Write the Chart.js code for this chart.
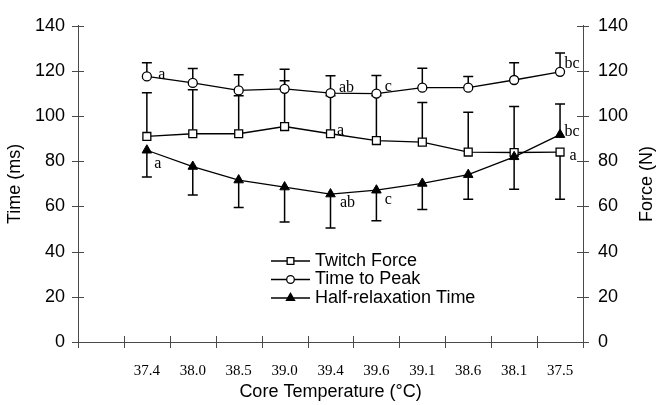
<!DOCTYPE html>
<html>
<head>
<meta charset="utf-8">
<script src="https://cdn.jsdelivr.net/npm/chart.js@4.4.0/dist/chart.umd.min.js"></script>
<style>
  html, body { margin: 0; padding: 0; background: #fff; }
  #wrap { width: 656px; height: 405px; }
</style>
</head>
<body>
<div id="wrap"><canvas id="chart"></canvas></div>
<script>
// Core temperature at each measurement (x categories)
const temps = ['37.4', '38.0', '38.5', '39.0', '39.4', '39.6', '39.1', '38.6', '38.1', '37.5'];

// Twitch force (N), right axis; bar end = mean + / - SD
const twitchForce    = [91.0, 92.2, 92.2, 95.4, 92.2, 89.2, 88.5, 84.1, 83.9, 84.1];
const twitchForceEnd = [110.4, 111.7, 109.0, 115.7, 109.0, 109.0, 106.0, 101.7, 104.3, 63.2];
const twitchForceSig = ['', '', '', '', 'a', '', '', '', '', 'a'];

// Time to peak (ms), left axis
const timeToPeak    = [117.6, 114.7, 111.4, 112.1, 110.2, 110.0, 112.6, 112.6, 116.0, 119.6];
const timeToPeakEnd = [123.6, 121.1, 118.3, 120.8, 117.9, 118.0, 121.2, 117.5, 123.6, 128.0];
const timeToPeakSig = ['a', '', '', '', 'ab', 'c', '', '', '', 'bc'];

// Half-relaxation time (ms), left axis
const halfRelax    = [84.9, 77.7, 71.7, 68.6, 65.5, 67.2, 70.2, 74.1, 82.0, 91.8];
const halfRelaxEnd = [73.1, 65.1, 59.5, 53.1, 50.5, 53.7, 58.7, 63.2, 67.6, 105.4];
const halfRelaxSig = ['a', '', '', '', 'ab', 'c', '', '', '', 'bc'];

const yTicks = [0, 20, 40, 60, 80, 100, 120, 140];

const SANS = "'Liberation Sans', Arial, sans-serif";
const SERIF = "'Liberation Serif', 'Times New Roman', serif";
const AXIS = '#4a4a4a';

// first category is left empty in the original figure
const xLabels = [''].concat(temps);
const pad = arr => [null].concat(arr);

// where the significance letters sit relative to each point [dx, dy]
const sigOffsets = {
  'Twitch Force': { 4: [10, -3], 9: [13, 4] },
  'Time to Peak': { 0: [15, -2], 4: [16, -5], 5: [12, -7], 9: [12, -8] },
  'Half-relaxation Time': { 0: [11, 14], 4: [17, 9], 5: [12, 10], 9: [12, -3] }
};

const errorBars = {
  id: 'errorBars',
  beforeDatasetsDraw(chart) {
    const ctx = chart.ctx;
    ctx.save();
    ctx.strokeStyle = '#000';
    ctx.lineWidth = 1.5;
    chart.data.datasets.forEach((ds, i) => {
      const meta = chart.getDatasetMeta(i);
      const scale = chart.scales[meta.yAxisID];
      meta.data.forEach((pt, j) => {
        const end = ds.errEnd[j];
        if (end == null || ds.data[j] == null) return;
        const ye = scale.getPixelForValue(end);
        ctx.beginPath();
        ctx.moveTo(pt.x, pt.y);
        ctx.lineTo(pt.x, ye);
        ctx.moveTo(pt.x - 5, ye);
        ctx.lineTo(pt.x + 5, ye);
        ctx.stroke();
      });
    });
    ctx.restore();
  }
};

const sigLetters = {
  id: 'sigLetters',
  afterDatasetsDraw(chart) {
    const ctx = chart.ctx;
    ctx.save();
    ctx.fillStyle = '#000';
    ctx.font = '16px ' + SERIF;
    ctx.textAlign = 'center';
    ctx.textBaseline = 'middle';
    chart.data.datasets.forEach((ds, i) => {
      const meta = chart.getDatasetMeta(i);
      const offs = sigOffsets[ds.label] || {};
      ds.sig.forEach((s, j) => {
        if (!s) return;
        const pt = meta.data[j + 1];
        const o = offs[j] || [12, 0];
        ctx.fillText(s, pt.x + o[0], pt.y + o[1]);
      });
    });
    ctx.restore();
  }
};

// tick marks that cross the axis lines, plus the right title read bottom-to-top
const crossTicks = {
  id: 'crossTicks',
  afterDraw(chart) {
    const ctx = chart.ctx;
    const area = chart.chartArea;
    ctx.save();
    ctx.strokeStyle = AXIS;
    ctx.lineWidth = 1;
    ctx.beginPath();
    ['y', 'y1'].forEach(id => {
      const s = chart.scales[id];
      const x = id === 'y' ? area.left : area.right;
      s.ticks.forEach(t => {
        const y = Math.round(s.getPixelForValue(t.value)) + 0.5;
        ctx.moveTo(x - 6, y);
        ctx.lineTo(x + 6, y);
      });
    });
    const n = xLabels.length;
    const w = (area.right - area.left) / n;
    for (let k = 0; k <= n; k++) {
      const x = Math.round(area.left + k * w) + 0.5;
      ctx.moveTo(x, area.bottom - 6);
      ctx.lineTo(x, area.bottom + 6);
    }
    ctx.stroke();

    const r = chart.scales.y1;
    ctx.translate(r.right - 9, (area.top + area.bottom) / 2);
    ctx.rotate(-Math.PI / 2);
    ctx.fillStyle = '#000';
    ctx.font = '18px ' + SANS;
    ctx.textAlign = 'center';
    ctx.textBaseline = 'middle';
    ctx.fillText('Force (N)', 0, 0);
    ctx.restore();
  }
};

const legendBox = {
  id: 'legendBox',
  afterDraw(chart) {
    const ctx = chart.ctx;
    const rows = [261, 279.5, 298];
    ctx.save();
    chart.data.datasets.forEach((ds, i) => {
      const y = rows[i];
      ctx.strokeStyle = '#000';
      ctx.lineWidth = 1.3;
      ctx.beginPath();
      ctx.moveTo(271, y);
      ctx.lineTo(310, y);
      ctx.stroke();
      ctx.fillStyle = ds.pointBackgroundColor;
      ctx.strokeStyle = '#000';
      Chart.helpers.drawPoint(ctx, {
        pointStyle: ds.pointStyle, radius: ds.pointRadius * 0.85,
        borderWidth: 1.3, rotation: 0
      }, 290.5, y);
      ctx.fillStyle = '#000';
      ctx.font = '18px ' + SANS;
      ctx.textAlign = 'left';
      ctx.textBaseline = 'middle';
      ctx.fillText(ds.label, 315, y);
    });
    ctx.restore();
  }
};

const tickFont = { family: SANS, size: 18 };
const titleFont = { family: SANS, size: 18, lineHeight: 1 };

new Chart(document.getElementById('chart'), {
  type: 'line',
  data: {
    labels: xLabels,
    datasets: [
      {
        label: 'Twitch Force',
        data: pad(twitchForce),
        errEnd: pad(twitchForceEnd),
        sig: twitchForceSig,
        yAxisID: 'y1',
        order: 1,
        borderColor: '#000',
        borderWidth: 1.3,
        pointStyle: 'rect',
        pointRadius: 5.6,
        pointBorderWidth: 1.3,
        pointBackgroundColor: '#fff',
        pointBorderColor: '#000'
      },
      {
        label: 'Time to Peak',
        data: pad(timeToPeak),
        errEnd: pad(timeToPeakEnd),
        sig: timeToPeakSig,
        yAxisID: 'y',
        order: 2,
        borderColor: '#000',
        borderWidth: 1.3,
        pointStyle: 'circle',
        pointRadius: 4.5,
        pointBorderWidth: 1.3,
        pointBackgroundColor: '#fff',
        pointBorderColor: '#000'
      },
      {
        label: 'Half-relaxation Time',
        data: pad(halfRelax),
        errEnd: pad(halfRelaxEnd),
        sig: halfRelaxSig,
        yAxisID: 'y',
        order: 0,
        borderColor: '#000',
        borderWidth: 1.3,
        pointStyle: 'triangle',
        pointRadius: 5.5,
        pointBorderWidth: 1,
        pointBackgroundColor: '#000',
        pointBorderColor: '#000'
      }
    ]
  },
  options: {
    responsive: true,
    maintainAspectRatio: false,
    animation: false,
    layout: { padding: { top: 17, left: 0, right: 0, bottom: 0 } },
    plugins: {
      legend: { display: false },
      tooltip: { enabled: false }
    },
    elements: { line: { tension: 0 } },
    scales: {
      x: {
        offset: true,
        grid: { display: false, drawTicks: false },
        border: { display: true, color: AXIS, width: 1 },
        ticks: { font: { family: SERIF, size: 15 }, color: '#000', padding: 20, maxRotation: 0, autoSkip: false },
        title: { display: true, text: 'Core Temperature (°C)', font: titleFont, color: '#000', padding: { top: 0, bottom: 4 } },
        afterFit(scale) { scale.height = 63; }
      },
      y: {
        position: 'left',
        min: 0, max: 140,
        afterBuildTicks(scale) { scale.ticks = yTicks.map(v => ({ value: v })); },
        grid: { display: false, drawTicks: false },
        border: { display: true, color: AXIS, width: 1 },
        ticks: { font: tickFont, color: '#000', padding: 13 },
        title: { display: true, text: 'Time (ms)', font: titleFont, color: '#000', padding: { top: 6, bottom: 0 } },
        afterFit(scale) { scale.width = 78; }
      },
      y1: {
        position: 'right',
        min: 0, max: 140,
        afterBuildTicks(scale) { scale.ticks = yTicks.map(v => ({ value: v })); },
        grid: { display: false, drawTicks: false },
        border: { display: true, color: AXIS, width: 1 },
        ticks: { font: tickFont, color: '#000', padding: 15 },
        title: { display: false },
        afterFit(scale) { scale.width = 73; }
      }
    }
  },
  plugins: [errorBars, sigLetters, crossTicks, legendBox]
});
</script>
</body>
</html>
